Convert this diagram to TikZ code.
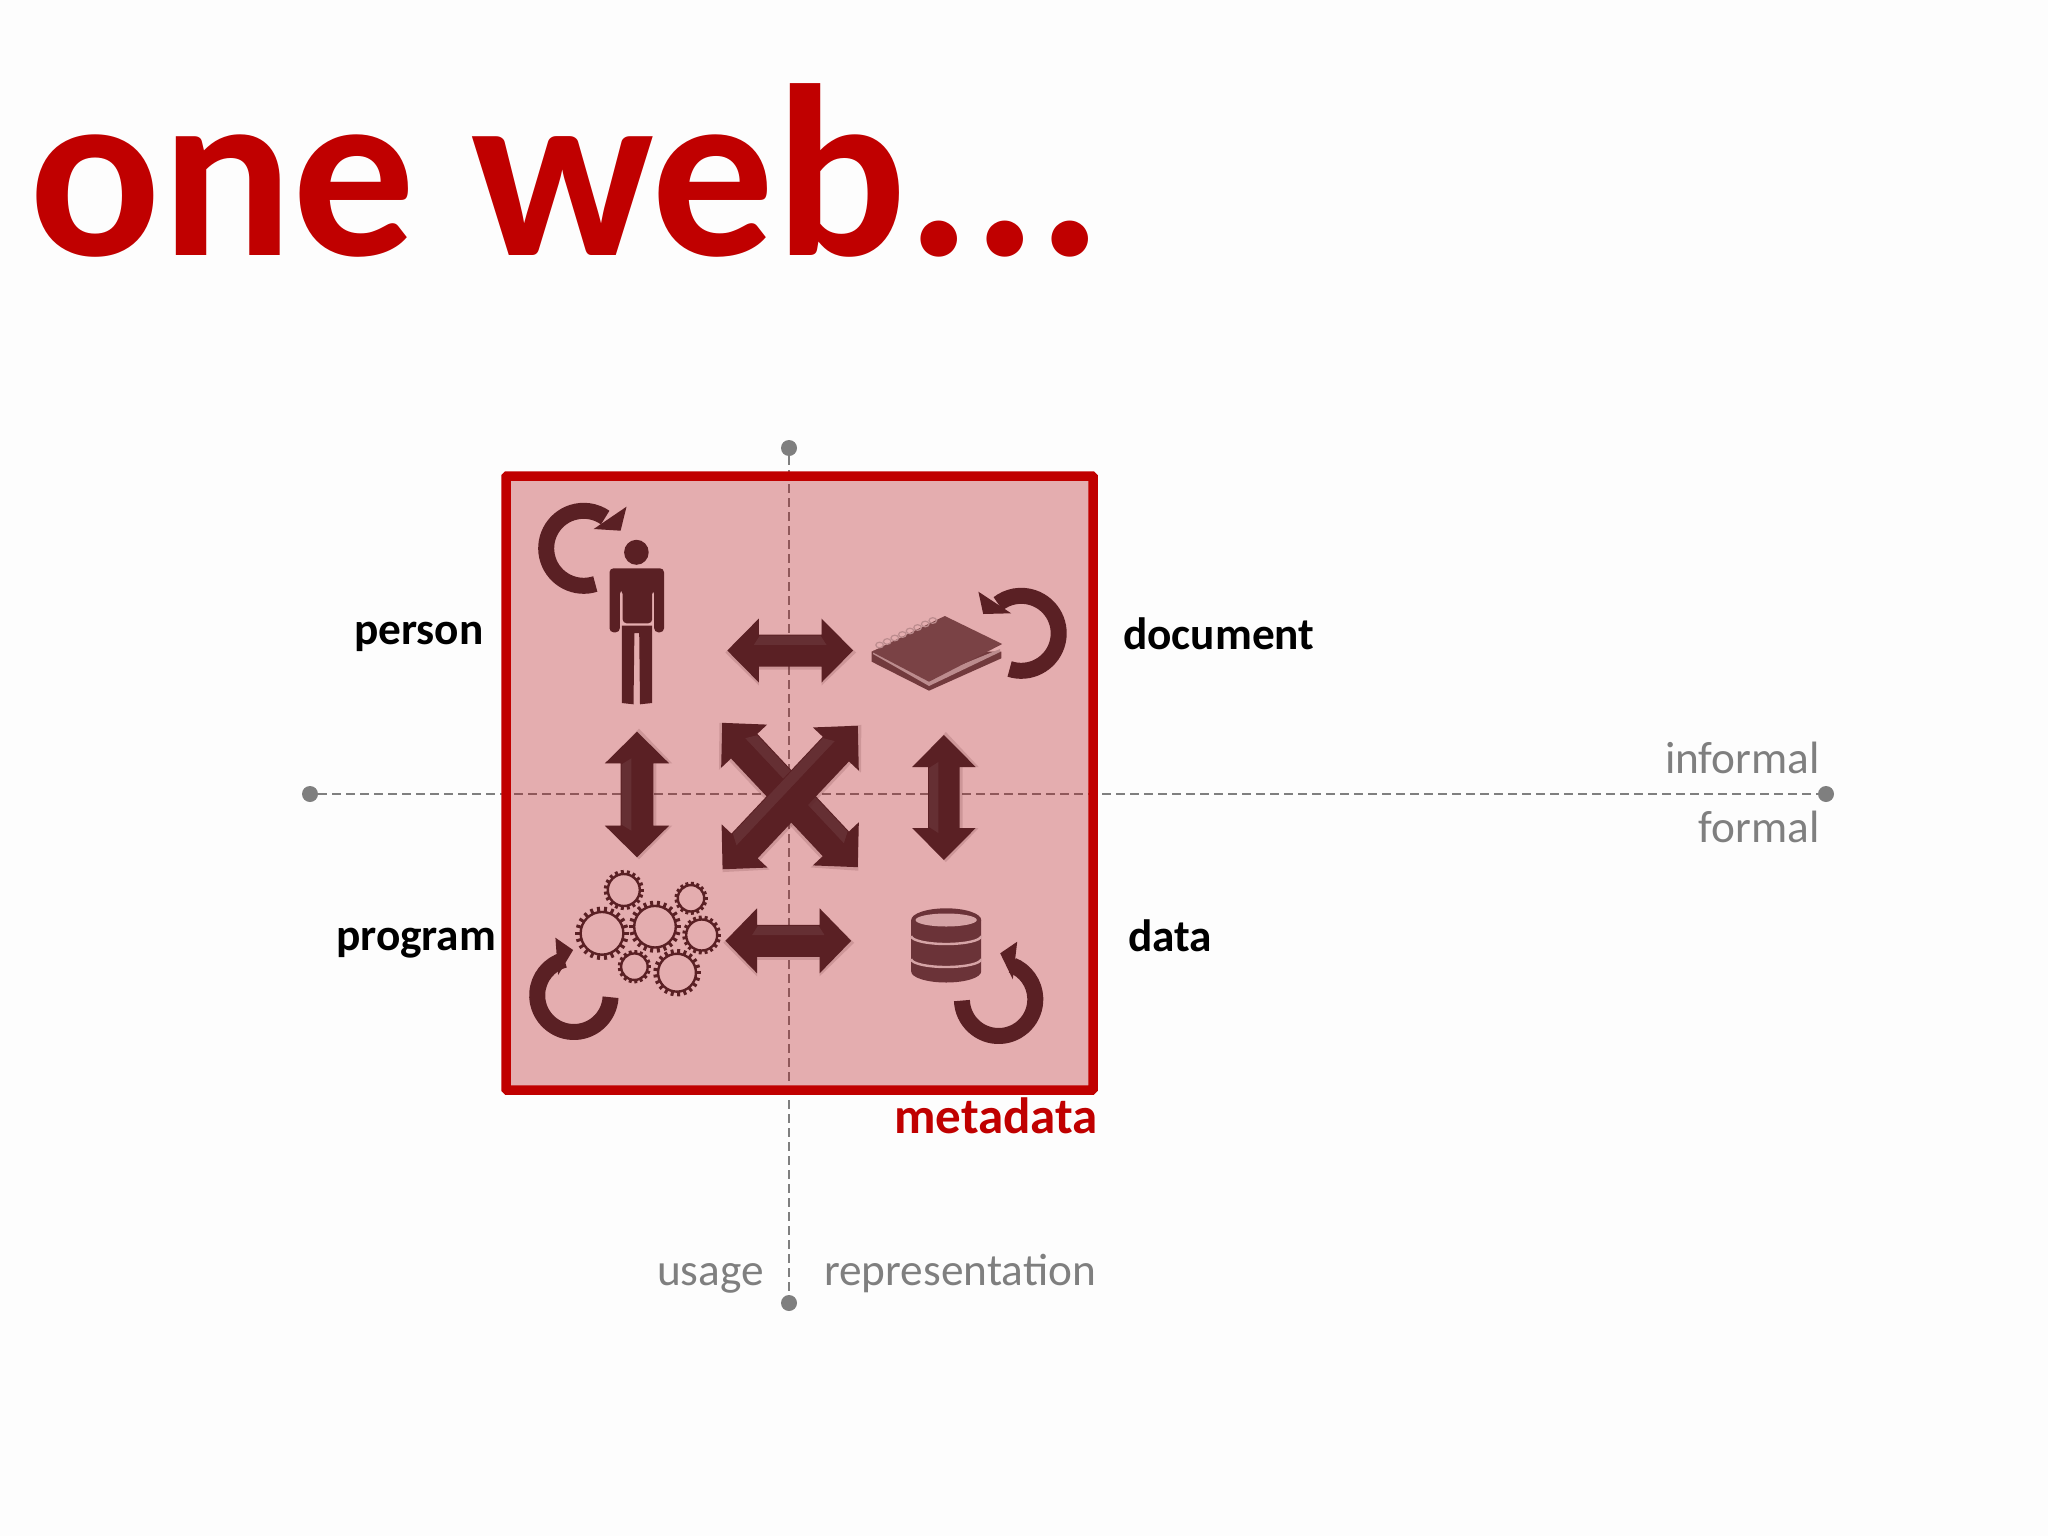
\documentclass[tikz,border=0pt]{standalone}
\usepackage{fontspec}
\setmainfont{Carlito}
\definecolor{ttl}{HTML}{C00000}
\definecolor{icon}{HTML}{5A2024}
\definecolor{cover}{HTML}{7A4245}
\definecolor{dbbody}{HTML}{6B3338}
\definecolor{pagec}{HTML}{BC8C8E}
\definecolor{dbline}{HTML}{D6A4A6}
\definecolor{boxtint}{HTML}{B2060C}
\definecolor{axis}{HTML}{7F7F7F}
\definecolor{pagebg}{HTML}{FDFDFD}
\newcommand{\dblarrow}[7]{%
  \begin{scope}[shift={(#1,#2)},rotate=#3]
    \pgfmathsetmacro{\xa}{#4-#5}
    \fill[icon,opacity=.16] (-#4-2,2) -- (-\xa,-#6+1) -- (-\xa,-#7+2) -- (\xa,-#7+2) -- (\xa,-#6+1) -- (#4+3,2)
      -- (\xa,#6+3) -- (\xa,#7+3) -- (-\xa,#7+3) -- (-\xa,#6+3) -- cycle;
    \fill[icon] (-#4,0) -- (-\xa,-#6) -- (-\xa,-#7) -- (\xa,-#7) -- (\xa,-#6) -- (#4,0)
      -- (\xa,#6) -- (\xa,#7) -- (-\xa,#7) -- (-\xa,#6) -- cycle;
    \fill[white,opacity=.07] (-\xa+1,-#7+1) -- (\xa-1,-#7+1) -- (\xa+5,-#7*.35) -- (-\xa-5,-#7*.35) -- cycle;
  \end{scope}}
\newcommand{\carc}[6]{%
  \draw[icon,line width=#4] ([shift={(#5:#3)}]#1,#2) arc[start angle=#5,end angle=#6,radius=#3];}
\newcommand{\gearw}[3]{%
  \pgfmathsetmacro{\gin}{#3*.8}
  \pgfmathtruncatemacro{\gn}{round(#3*0.5+9)}
  \draw[icon,line width=2.4] (#1,#2) circle[radius=\gin];
  \foreach \gi in {1,...,\gn}{
    \pgfmathsetmacro{\ga}{360*\gi/\gn}
    \draw[icon,line width=3] ([shift={(\ga:\gin)}]#1,#2) -- ([shift={(\ga:#3)}]#1,#2);
  }}
\tikzset{
  axisline/.style={axis,line width=2,dash pattern=on 9pt off 5pt},
  axisdot/.style={circle,fill=axis,inner sep=0pt,minimum size=16},
  blacklabel/.style={font=\fontsize{45.3}{50}\selectfont\bfseries,text=black,inner sep=0pt},
  greylabel/.style={font=\fontsize{45.3}{50}\selectfont,text=axis,inner sep=0pt},
}
\begin{document}
\begin{tikzpicture}[x=1pt,y=-1pt]
\useasboundingbox (0,0) rectangle (2048,1536);
\fill[pagebg] (0,0) rectangle (2048,1536);
\node[anchor=base west,inner sep=0pt,text=ttl,font=\fontsize{245}{280}\selectfont\bfseries] (title) at (29,255) {one web...};
% axes
\node[axisdot] (dotL) at (310,794) {};
\node[axisdot] (dotR) at (1826,794) {};
\node[axisdot] (dotT) at (789,448) {};
\node[axisdot] (dotB) at (789,1303) {};
\draw[axisline] (dotL) -- (dotR);
\draw[axisline] (dotT) -- (dotB);
% box
\node[draw=ttl,line width=9.5,fill=boxtint,fill opacity=.32,draw opacity=1,rounded corners=1,minimum width=587,minimum height=614,inner sep=0pt] (box) at (799.5,783) {};
% person
\fill[icon] (636.4,552.3) ellipse[x radius=12.3,y radius=12.5];
\fill[icon,rounded corners=4] (609.5,568.3) -- (664,568.3) -- (664,632.3) -- (654.2,632.3) -- (654.2,590) -- (652.2,590) -- (652.2,623.3) -- (622.6,623.3) -- (622.6,590) -- (619.8,590) -- (619.8,632.3) -- (609.5,632.3) -- cycle;
\fill[icon] (621.8,625.7) -- (652.2,625.7) -- (652.2,703) -- (640,704.3) -- (639.2,633) -- (634.4,633) -- (633.5,704.3) -- (621.8,703) -- cycle;
\carc{583.7}{548.3}{37.5}{16}{72}{305}
\fill[icon] (626.5,506.7) -- (620.6,530.7) -- (593.7,529) -- cycle;
% notebook
\fill[cover!75!icon] (871.7,651.7) -- (871.7,661.7) -- (929,690.7) -- (1001.4,658.3) -- (1001.4,651.7) -- cycle;
\fill[pagec] (873,654) -- (929,686) -- (1000,652) -- (1000,649) -- (929,678) -- (873,650) -- cycle;
\fill[cover] (944.8,616) -- (1002.2,644) -- (929,681.7) -- (871.7,651.7) -- cycle;
\foreach \ni in {0,...,7}{
  \draw[pagec,line width=1.2] ({879.6+\ni*7.6},{645-\ni*3.5}) ellipse[x radius=3.8,y radius=2.8];
}
\carc{1021.2}{633.3}{37.5}{16}{108}{-128}
\fill[icon] (978.4,591.7) -- (983.2,614) -- (1011.2,613.3) -- cycle;
% gears
\gearw{623.8}{890}{20}
\gearw{691}{898.3}{16.5}
\gearw{602}{933.3}{26.7}
\gearw{655}{926.7}{26}
\gearw{701.7}{935}{19.4}
\gearw{634.4}{966.7}{16.6}
\gearw{677}{972.7}{23.7}
\carc{573.9}{995.3}{36.7}{16}{3}{255}
\fill[icon] (555.4,937.7) -- (573.1,950) -- (558.1,975) -- cycle;
% database
\fill[dbbody] (911.2,920) -- (911.2,971.5) arc[start angle=180,end angle=0,x radius=35,y radius=11] -- (981.2,920) -- cycle;
\fill[dbbody] (946.2,920) ellipse[x radius=35,y radius=11.7];
\fill[dbline] (946.2,920) ellipse[x radius=30.6,y radius=6.5];
\foreach \dy in {936,959}{
  \draw[dbline,line width=2.4] (911.2,\dy) arc[start angle=180,end angle=0,x radius=35,y radius=8];
}
\carc{998.6}{999.3}{36.7}{16}{178}{-68}
\fill[icon] (1017.2,941.7) -- (1000.2,953.3) -- (1012.8,979.3) -- cycle;
% double arrows
\dblarrow{790.2}{650.5}{0}{62.9}{31.6}{32}{16}
\dblarrow{788.3}{940.8}{0}{62.9}{31.6}{32.5}{16}
\dblarrow{637}{794.5}{90}{62.8}{31.7}{32.2}{16.4}
\dblarrow{943.9}{797.5}{90}{62.5}{32}{31.8}{15.8}
\dblarrow{790}{795}{-46.8}{99}{32}{31.5}{18}
\dblarrow{790.2}{797.5}{46.7}{98.6}{32}{31.5}{18}
% labels
\node[blacklabel,anchor=base west] (lperson) at (354,644) {person};
\node[blacklabel,anchor=base west] (ldocument) at (1123,649) {document};
\node[blacklabel,anchor=base west] (lprogram) at (336,950) {program};
\node[blacklabel,anchor=base west] (ldata) at (1128,951) {data};
\node[greylabel,anchor=base east] (linformal) at (1820,773) {informal};
\node[greylabel,anchor=base east] (lformal) at (1820,842) {formal};
\node[greylabel,anchor=base west] (lusage) at (657,1285) {usage};
\node[greylabel,anchor=base west] (lrep) at (824,1285) {representation};
\node[blacklabel,anchor=base east,text=ttl,font=\fontsize{51}{55}\selectfont\bfseries] (lmeta) at (1098,1133) {metadata};
\end{tikzpicture}
\end{document}
